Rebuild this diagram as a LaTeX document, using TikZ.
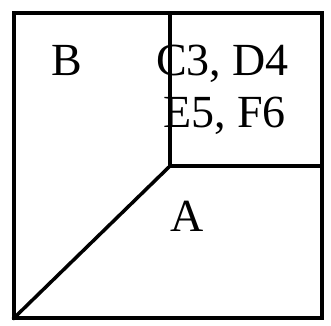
\documentclass[tikz,border=0pt]{standalone}
\usepackage{fontspec}
\setmainfont{Liberation Serif}
\begin{document}
\begin{tikzpicture}[x=1pt,y=-1pt,
  edge/.style={line width=3.5pt,line cap=rect},
  lbl/.style={font=\fontsize{46}{52}\selectfont,inner sep=0pt,anchor=base}]
\useasboundingbox (0,0) rectangle (331,325);
\coordinate (tl) at (14,13);
\coordinate (tr) at (322,13);
\coordinate (br) at (322,318);
\coordinate (bl) at (14,318);
\coordinate (mid) at (170,166);
\coordinate (top) at (170,13);
\coordinate (right) at (322,166);
\draw[edge] (tl) -- (tr) -- (br) -- (bl) -- cycle;
\draw[edge] (top) -- (mid) -- (right);
\draw[edge] (bl) -- (mid);
\node[lbl] (B) at (67,75) {B};
\node[lbl] (C) at (222.5,75) {C3, D4};
\node[lbl] (E) at (224.5,127) {E5, F6};
\node[lbl] (A) at (187,231) {A};
\end{tikzpicture}
\end{document}
